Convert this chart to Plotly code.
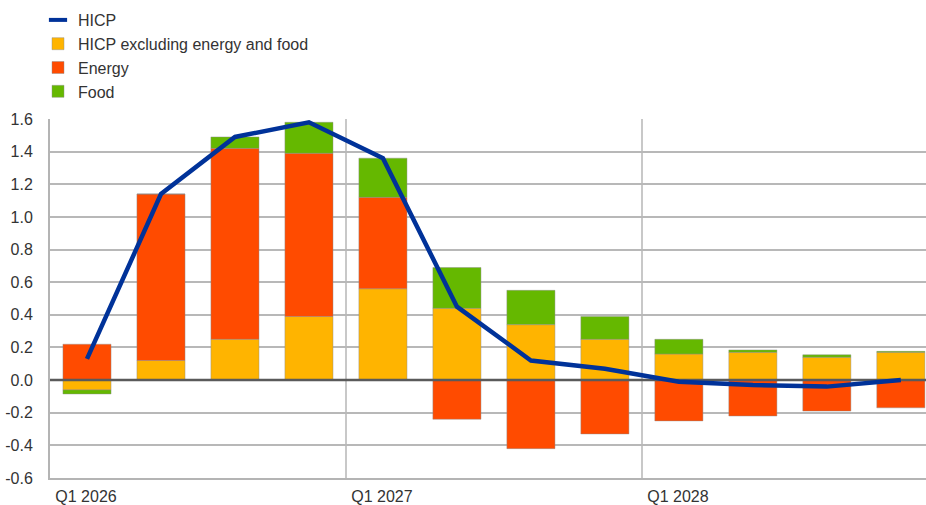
import plotly.graph_objects as go

quarters = ["Q1 2026", "Q2 2026", "Q3 2026", "Q4 2026",
            "Q1 2027", "Q2 2027", "Q3 2027", "Q4 2027",
            "Q1 2028", "Q2 2028", "Q3 2028", "Q4 2028"]
core = [-0.06, 0.12, 0.25, 0.39, 0.56, 0.44, 0.34, 0.25, 0.16, 0.17, 0.14, 0.17]
energy = [0.22, 1.02, 1.17, 1.00, 0.56, -0.24, -0.42, -0.33, -0.25, -0.22, -0.19, -0.17]
food = [-0.025, 0.0, 0.07, 0.19, 0.24, 0.25, 0.21, 0.14, 0.09, 0.015, 0.015, 0.006]
hicp = [0.13, 1.14, 1.49, 1.58, 1.36, 0.45, 0.12, 0.07, -0.01, -0.03, -0.04, 0.0]
y_ticks = [-0.6, -0.4, -0.2, 0.0, 0.2, 0.4, 0.6, 0.8, 1.0, 1.2, 1.4, 1.6]

BLUE = "#003299"
YELLOW = "#FFB400"
ORANGE = "#FF4B00"
GREEN = "#65B800"
FONT = "Liberation Sans, Arial, sans-serif"
TXT = "#333333"

W, H = 926, 505

xs = list(range(len(quarters)))
x_range = [-0.5, 11.34]
q1_pos = [i - 0.5 for i, q in enumerate(quarters) if q.startswith("Q1")]
q1_txt = [q for q in quarters if q.startswith("Q1")]

fig = go.Figure()
edge = dict(color="rgba(140,140,140,0.55)", width=0.8)
fig.add_trace(go.Bar(x=xs, y=core, name="HICP excluding energy and food",
                     marker=dict(color=YELLOW, line=edge), width=0.65, legendrank=2))
fig.add_trace(go.Bar(x=xs, y=energy, name="Energy",
                     marker=dict(color=ORANGE, line=edge), width=0.65, legendrank=3))
fig.add_trace(go.Bar(x=xs, y=food, name="Food",
                     marker=dict(color=GREEN, line=edge), width=0.65, legendrank=4))
# zero baseline (above bars, below HICP line)
fig.add_trace(go.Scatter(x=x_range, y=[0, 0], mode="lines",
                         line=dict(color="#5a5a5a", width=2.5),
                         showlegend=False, hoverinfo="skip"))
fig.add_trace(go.Scatter(x=xs, y=hicp, mode="lines", name="HICP",
                         line=dict(color=BLUE, width=4.5), showlegend=False))
# legend entry for HICP with a short thick line symbol
fig.add_trace(go.Scatter(x=[None], y=[None], mode="markers", name="HICP",
                         marker=dict(symbol="line-ew", size=13,
                                     line=dict(color=BLUE, width=4)),
                         legendrank=1))

fig.update_layout(
    width=W, height=H,
    margin=dict(l=50, r=0, t=119, b=27, autoexpand=False),
    paper_bgcolor="white", plot_bgcolor="white",
    barmode="relative", bargap=0.35,
    font=dict(family=FONT, size=16, color=TXT),
    showlegend=True,
    legend=dict(xref="container", yref="container", x=38 / W, y=1 - 3 / H,
                xanchor="left", yanchor="top", traceorder="normal",
                font=dict(size=16, color=TXT), bgcolor="rgba(0,0,0,0)",
                itemclick=False, tracegroupgap=0),
)
fig.update_xaxes(range=x_range, tickvals=q1_pos, ticktext=q1_txt,
                 showgrid=True, gridcolor="#c8c8c8", gridwidth=2,
                 showline=True, linecolor="#b4b4b4", linewidth=2,
                 zeroline=False, ticks="", ticklabelshift=36, ticklabelstandoff=3,
                 tickfont=dict(size=16, color=TXT))
fig.update_yaxes(range=[-0.6, 1.6], tickvals=y_ticks,
                 ticktext=[f"{v:.1f}" for v in y_ticks],
                 showgrid=True, gridcolor="#b8b8b8", gridwidth=2,
                 showline=True, linecolor="#b4b4b4", linewidth=2,
                 zeroline=False, ticks="", ticklabelstandoff=12,
                 tickfont=dict(size=16, color=TXT))

fig.write_html("out.html", config={"displayModeBar": False},
               post_script="document.body.style.margin='0';"
                           "document.body.style.overflow='hidden';")
